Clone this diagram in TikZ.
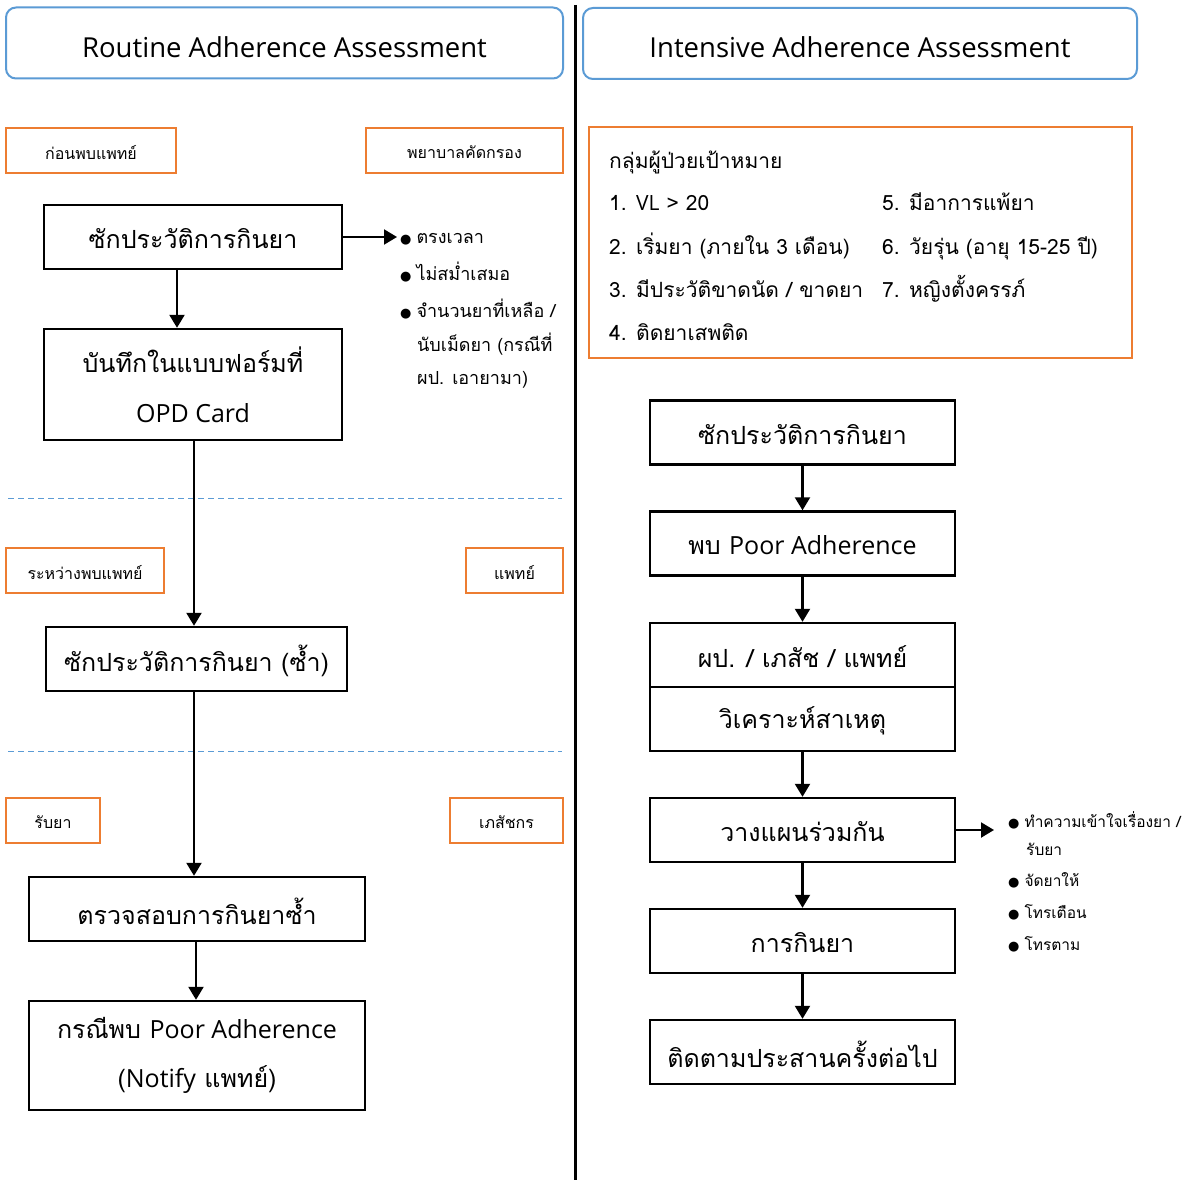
\documentclass[tikz,border=0pt]{standalone}
\usepackage{fontspec}
\setmainfont{Loma}[Script=Thai]
\newfontfamily\lat{Open Sans}
\newfontfamily\symfont{DejaVu Sans}
\usetikzlibrary{arrows.meta}
\definecolor{frameblue}{HTML}{5B9BD5}
\definecolor{tagorange}{HTML}{ED7D31}
\newcommand{\bul}{{\symfont\fontsize{13}{13}\selectfont ●}\hspace{5pt}}
% lower a line of text without changing the size TikZ sees
\newcommand{\dn}[2]{\raisebox{-#1}[\height][\depth]{#2}}
\begin{document}
\begin{tikzpicture}[x=1pt,y=-1pt,
  titlebox/.style={draw=frameblue,line width=2pt,rounded corners=10pt,
    minimum height=71,font=\lat\fontsize{27.5}{30}\selectfont},
  tagbox/.style={draw=tagorange,line width=2.2pt,minimum height=45,
    font=\fontsize{16}{19}\selectfont},
  stepbox/.style={draw=black,line width=2.4pt,minimum height=64,
    font=\fontsize{25}{30}\selectfont},
  arr/.style={line width=2.2pt,-{Triangle[width=15pt,length=13pt]}},
  note/.style={anchor=base west,inner sep=0pt,font=\fontsize{18}{20}\selectfont},
  goal/.style={anchor=base west,inner sep=0pt,font=\fontsize{21}{26}\selectfont},
  sep/.style={draw=frameblue,line width=1pt,dash pattern=on 6pt off 4pt}]
\useasboundingbox (0,0) rectangle (1184,1180);
\fill[white] (0,0) rectangle (1184,1180);

% column divider
\draw[line width=3pt] (575,5) -- (575,1180);

% ---------- left column: routine assessment ----------
\node[titlebox,minimum width=557] (tl) at (284.5,43)
  {\dn{4pt}{Routine Adherence Assessment}};

\node[tagbox,minimum width=170] (t1) at (91,150.5) {\dn{2pt}{ก่อนพบแพทย์}};
\node[tagbox,minimum width=197] (t2) at (464.5,150.5) {\dn{2pt}{พยาบาลคัดกรอง}};

\node[stepbox,minimum width=298] (b1) at (193,237) {\dn{2pt}{ซักประวัติการกินยา}};
\node[stepbox,minimum width=298,minimum height=111,align=center,
  font=\fontsize{25}{50}\selectfont] (b2) at (193,384.5)
  {บันทึกในแบบฟอร์มที่\\{\lat OPD Card}};

\coordinate (n1) at (397,237);
\draw[arr] (b1.east) -- (n1);
\node[note] (l1) at (400,243) {\bul ตรงเวลา};
\node[note] (l2) at (400,280) {\bul ไม่สม่ำเสมอ};
\node[note] (l3) at (400,317) {\bul จำนวนยาที่เหลือ /};
\node[note] (l4) at (417,351) {นับเม็ดยา (กรณีที่};
\node[note] (l5) at (417,384) {ผป. เอายามา)};

\draw[arr] ([xshift=-16pt]b1.south) -- ([xshift=-16pt]b1.south |- b2.north);

\draw[sep] (8,498) -- (562,498);
\node[tagbox,minimum width=158] (t3) at (85,570.5) {\dn{2pt}{ระหว่างพบแพทย์}};
\node[tagbox,minimum width=97] (t4) at (514.5,570.5) {\dn{2pt}{แพทย์}};

\node[stepbox,minimum width=301] (b3) at (196.5,659) {\dn{2pt}{ซักประวัติการกินยา (ซ้ำ)}};
\draw[arr] ([xshift=1pt]b2.south) -- ([xshift=1pt]b2.south |- b3.north);

\draw[sep] (8,751) -- (562,751);
\node[tagbox,minimum width=94] (t5) at (53,820.5) {\dn{2pt}{รับยา}};
\node[tagbox,minimum width=113] (t6) at (506.5,820.5) {\dn{2pt}{เภสัชกร}};

\node[stepbox,minimum width=336] (b4) at (197,909) {\dn{2pt}{ตรวจสอบการกินยาซ้ำ}};
\draw[arr] ([xshift=-2.5pt]b3.south) -- ([xshift=-2.5pt]b3.south |- b4.north);

\node[stepbox,minimum width=336,minimum height=109,align=center,
  font=\fontsize{25}{49}\selectfont] (b5) at (197,1055.5)
  {กรณีพบ {\lat Poor Adherence}\\({\lat Notify} แพทย์)};
\draw[arr] ([xshift=-1pt]b4.south) -- ([xshift=-1pt]b4.south |- b5.north);

% ---------- right column: intensive assessment ----------
\node[titlebox,minimum width=554] (tr) at (860,43.5)
  {\dn{4pt}{Intensive Adherence Assessment}};

\node[draw=tagorange,line width=2.2pt,minimum width=543,minimum height=231]
  (grp) at (860.5,242.5) {};
\node[goal] (g0) at (609,168) {กลุ่มผู้ป่วยเป้าหมาย};
\node[goal] (g1) at (609,211) {1. {\lat VL} > 20};
\node[goal] (g2) at (609,254) {2. เริ่มยา (ภายใน 3 เดือน)};
\node[goal] (g3) at (609,297) {3. มีประวัติขาดนัด / ขาดยา};
\node[goal] (g4) at (609,340) {4. ติดยาเสพติด};
\node[goal] (g5) at (882,211) {5. มีอาการแพ้ยา};
\node[goal] (g6) at (882,254) {6. วัยรุ่น (อายุ 15-25 ปี)};
\node[goal] (g7) at (882,297) {7. หญิงตั้งครรภ์};

\node[stepbox,minimum width=305] (r1) at (802.5,432.5) {\dn{2pt}{ซักประวัติการกินยา}};
\node[stepbox,minimum width=305] (r2) at (802.5,543.5) {\dn{2pt}{พบ {\lat Poor Adherence}}};
\node[stepbox,minimum width=305] (r3) at (802.5,655) {\dn{2pt}{ผป. / เภสัช / แพทย์}};
\node[stepbox,minimum width=305] (r4) at (802.5,719) {\dn{2pt}{วิเคราะห์สาเหตุ}};
\node[stepbox,minimum width=305] (r5) at (802.5,830) {\dn{2pt}{วางแผนร่วมกัน}};
\node[stepbox,minimum width=305] (r6) at (802.5,941) {\dn{2pt}{การกินยา}};
\node[stepbox,minimum width=305] (r7) at (802.5,1052) {\dn{2pt}{ติดตามประสานครั้งต่อไป}};

\draw[arr] (r1.south) -- (r2.north);
\draw[arr] (r2.south) -- (r3.north);
\draw[arr] (r4.south) -- (r5.north);
\draw[arr] (r5.south) -- (r6.north);
\draw[arr] (r6.south) -- (r7.north);

\coordinate (n2) at (994,830);
\draw[arr] (r5.east) -- (n2);
\node[note,font=\fontsize{15.5}{18}\selectfont] (m1) at (1008,827) {\bul ทำความเข้าใจเรื่องยา /};
\node[note,font=\fontsize{15.5}{18}\selectfont] (m2) at (1026,855) {รับยา};
\node[note,font=\fontsize{15.5}{18}\selectfont] (m3) at (1008,886) {\bul จัดยาให้};
\node[note,font=\fontsize{15.5}{18}\selectfont] (m4) at (1008,918) {\bul โทรเตือน};
\node[note,font=\fontsize{15.5}{18}\selectfont] (m5) at (1008,950) {\bul โทรตาม};
\end{tikzpicture}
\end{document}
